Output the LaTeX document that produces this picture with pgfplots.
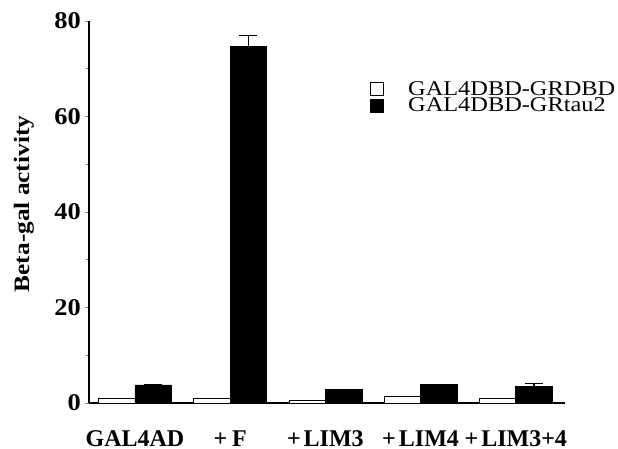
\documentclass[border=0pt]{standalone}
\usepackage{fontspec}
\setmainfont{Liberation Serif}
\newfontfamily\legfont[FakeStretch=1.16]{Liberation Serif}
\newfontfamily\ylfont[FakeStretch=1.15]{Liberation Serif}
\newfontfamily\tickfont[FakeStretch=1.1]{Liberation Serif}
\usepackage{pgfplots}
\pgfplotsset{compat=1.18}
\begin{document}
\begin{tikzpicture}
\path[use as bounding box] (-89pt,-46pt) rectangle (529pt,403pt);
\begin{axis}[
  scale only axis,
  width=476pt, height=382pt,
  xmin=-0.483, xmax=4.517,
  ymin=0, ymax=80,
  axis x line=bottom, axis y line=left,
  axis line style={-, line width=1.2pt},
  xtick=data,
  xticklabels={GAL4AD,+\hspace{5pt}F,+\hspace{3pt}LIM3,+\hspace{3pt}LIM4,+\hspace{3pt}LIM3+4},
  xtick style={draw=none},
  xticklabel style={font=\fontsize{24}{26}\selectfont\bfseries, anchor=north, inner sep=0pt, text height=17pt, text depth=0pt, yshift=-22pt},
  ytick={0,20,40,60,80},
  minor y tick num=1,
  tick align=outside,
  major tick length=4pt, minor tick length=3pt,
  ytick style={line width=0.8pt},
  /pgf/number format/assume math mode=true,
  yticklabel style={font=\tickfont\fontsize{24}{26}\selectfont\bfseries, inner sep=1pt, xshift=-3pt},
  ylabel={Beta-gal activity},
  ylabel style={font=\ylfont\fontsize{22}{24}\selectfont\bfseries, at={(axis description cs:-0.1366,0.521)}, anchor=center, rotate=0},
  ybar,
  bar width=36.5pt,
  legend style={draw=none, fill=none, at={(axis description cs:0.584,0.845)}, anchor=north west,
    font=\legfont\fontsize{21}{23}\selectfont, column sep=24pt, row sep=2.5pt,
    nodes={inner sep=0pt, text height=13pt, text depth=1pt}},
  legend cell align=left,
  legend image code/.code={\draw[#1, line width=1pt] (0pt,-6.5pt) rectangle (13pt,6.5pt);},
]
\addplot[fill=white, draw=black, line width=0.7pt, bar shift=-18.25pt]
  coordinates {(0,1.0) (1,1.0) (2,0.6) (3,1.45) (4,1.0)};
\addlegendentry{GAL4DBD-GRDBD}
\addplot[fill=black, draw=black, line width=0.7pt, bar shift=18.25pt,
  error bars/.cd, y dir=plus, y explicit,
  error bar style={line width=1.2pt, black},
  error mark options={rotate=90, mark size=9pt, line width=1.2pt, black}]
  coordinates {(0,3.77) +- (0,0) (1,74.6) +- (0,2.3) (2,2.9) +- (0,0) (3,3.9) +- (0,0) (4,3.4) +- (0,0.6)};
\addlegendentry{GAL4DBD-GRtau2}
\end{axis}
\end{tikzpicture}
\end{document}
